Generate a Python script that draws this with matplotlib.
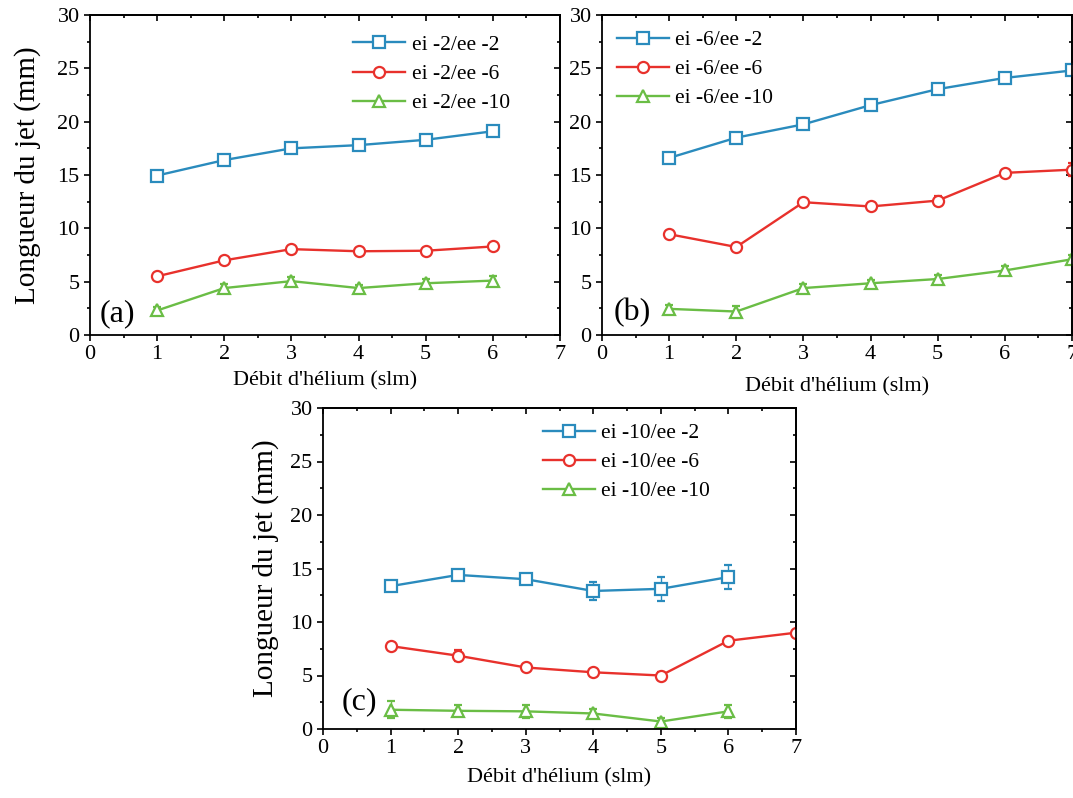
import matplotlib
matplotlib.use("Agg")
import matplotlib.pyplot as plt
from matplotlib.ticker import MultipleLocator, NullFormatter

plt.rcParams['font.family'] = ['Liberation Serif', 'DejaVu Serif']

# ---- data ----
x6 = [1, 2, 3, 4, 5, 6]
x7 = [1, 2, 3, 4, 5, 6, 7]

# panel (a): ei -2
a_labels = ["ei -2/ee -2", "ei -2/ee -6", "ei -2/ee -10"]
a_blue = [14.95, 16.4, 17.5, 17.8, 18.3, 19.1]
a_red = [5.5, 7.0, 8.05, 7.85, 7.9, 8.3]
a_green = [2.3, 4.4, 5.05, 4.4, 4.85, 5.1]
a_blue_err = [0.15, 0.15, 0.15, 0.15, 0.15, 0.15]
a_red_err = [0.15, 0.15, 0.15, 0.15, 0.15, 0.15]
a_green_err = [0.3, 0.4, 0.4, 0.3, 0.4, 0.4]

# panel (b): ei -6
b_labels = ["ei -6/ee -2", "ei -6/ee -6", "ei -6/ee -10"]
b_blue = [16.6, 18.5, 19.75, 21.55, 23.05, 24.1, 24.8]
b_red = [9.45, 8.25, 12.45, 12.05, 12.6, 15.2, 15.5]
b_green = [2.45, 2.2, 4.4, 4.85, 5.25, 6.05, 7.1]
b_blue_err = [0.2, 0.2, 0.2, 0.2, 0.2, 0.2, 0.2]
b_red_err = [0.2, 0.2, 0.2, 0.2, 0.4, 0.2, 0.6]
b_green_err = [0.4, 0.5, 0.4, 0.3, 0.4, 0.4, 0.4]

# panel (c): ei -10
c_labels = ["ei -10/ee -2", "ei -10/ee -6", "ei -10/ee -10"]
c_blue = [13.35, 14.4, 14.0, 12.9, 13.1, 14.2]
c_red = [7.75, 6.85, 5.75, 5.3, 5.0, 8.25, 9.0]
c_green = [1.8, 1.7, 1.65, 1.45, 0.7, 1.65]
c_blue_err = [0.2, 0.2, 0.4, 0.85, 1.1, 1.1]
c_red_err = [0.3, 0.5, 0.2, 0.2, 0.3, 0.3, 0.2]
c_green_err = [0.8, 0.5, 0.6, 0.4, 0.3, 0.6]

colors = ["#2a8bbd", "#e8312c", "#6abd45"]
markers = ["s", "o", "^"]

W, H = 1073, 798
fig = plt.figure(figsize=(W / 100, H / 100), dpi=100)


def px_axes(left, top, right, bottom):
    return fig.add_axes([left / W, 1 - bottom / H, (right - left) / W, (bottom - top) / H])


def set_locators(axis, major, minor):
    axis.set_major_locator(MultipleLocator(major))
    axis.set_minor_locator(MultipleLocator(minor))


def style(ax):
    ax.set_xlim(0, 7)
    ax.set_ylim(0, 30)
    set_locators(ax.xaxis, 1, 0.5)
    set_locators(ax.yaxis, 5, 2.5)
    ax.tick_params(which='both', direction='out', labelsize=16, width=1.2, pad=3)
    ax.tick_params(which='major', length=4.5)
    ax.tick_params(which='minor', length=2.5)
    for s in ax.spines.values():
        s.set_linewidth(1.3)
    # mirrored inward ticks on top and right
    top = ax.secondary_xaxis('top')
    set_locators(top.xaxis, 1, 0.5)
    top.xaxis.set_major_formatter(NullFormatter())
    top.tick_params(which='both', direction='in', width=1.2)
    top.tick_params(which='major', length=4.5)
    top.tick_params(which='minor', length=2.5)
    top.spines['top'].set_linewidth(1.3)
    right = ax.secondary_yaxis('right')
    set_locators(right.yaxis, 5, 2.5)
    right.yaxis.set_major_formatter(NullFormatter())
    right.tick_params(which='both', direction='in', width=1.2)
    right.tick_params(which='major', length=4.5)
    right.tick_params(which='minor', length=2.5)
    right.spines['right'].set_linewidth(1.3)


def draw(ax, xs, ys, errs, labels):
    handles = []
    for x, y, e, lab, c, m in zip(xs, ys, errs, labels, colors, markers):
        cont = ax.errorbar(x, y, yerr=e, color=c, marker=m, markersize=8,
                           markerfacecolor='white', markeredgecolor=c, markeredgewidth=1.6,
                           linewidth=1.7, capsize=3, elinewidth=1.0, capthick=1.0)
        cont[0].set_label(lab)
        handles.append(cont[0])
    return handles


leg_kw = dict(frameon=False, fontsize=15.5, handlelength=2.4, labelspacing=0.42,
              handletextpad=0.3, borderaxespad=0.3)

# (a)
ax_a = px_axes(90, 15, 560, 335)
style(ax_a)
h = draw(ax_a, [x6, x6, x6], [a_blue, a_red, a_green],
         [a_blue_err, a_red_err, a_green_err], a_labels)
ax_a.set_xlabel("Débit d'hélium (slm)", fontsize=16, labelpad=5)
ax_a.set_ylabel("Longueur du jet (mm)", fontsize=21, labelpad=12)
ax_a.text(0.02, 0.068, "(a)", transform=ax_a.transAxes, fontsize=23, ha='left', va='center')
ax_a.legend(handles=h, loc='upper right', bbox_to_anchor=(0.925, 0.985), **leg_kw)

# (b)
ax_b = px_axes(602, 15, 1072, 335)
style(ax_b)
h = draw(ax_b, [x7, x7, x7], [b_blue, b_red, b_green],
         [b_blue_err, b_red_err, b_green_err], b_labels)
ax_b.set_xlabel("Débit d'hélium (slm)", fontsize=16, labelpad=9)
ax_b.text(0.025, 0.07, "(b)", transform=ax_b.transAxes, fontsize=23, ha='left', va='center')
ax_b.legend(handles=h, loc='upper left', bbox_to_anchor=(0.0, 1.0), **leg_kw)

# (c)
ax_c = px_axes(323, 408, 796, 729)
style(ax_c)
h = draw(ax_c, [x6, x7, x6], [c_blue, c_red, c_green],
         [c_blue_err, c_red_err, c_green_err], c_labels)
ax_c.set_xlabel("Débit d'hélium (slm)", fontsize=16, labelpad=7)
ax_c.set_ylabel("Longueur du jet (mm)", fontsize=21, labelpad=8)
ax_c.text(0.04, 0.085, "(c)", transform=ax_c.transAxes, fontsize=23, ha='left', va='center')
ax_c.legend(handles=h, loc='upper right', bbox_to_anchor=(0.85, 1.0), **leg_kw)

fig.savefig("out.png", dpi=100)
